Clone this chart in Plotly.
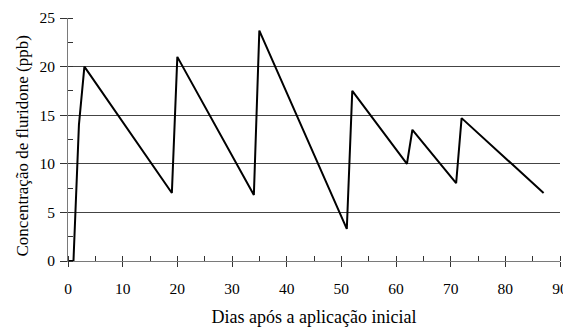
import plotly.graph_objects as go

dias = [0, 1, 2, 3, 19, 20, 34, 35, 51, 52, 62, 63, 71, 72, 87]
concentracao = [0, 0, 14, 20, 7, 21, 6.8, 23.7, 3.3, 17.5, 10, 13.5, 8, 14.7, 7]

x_title = "Dias após a aplicação inicial"
y_title = "Concentração de fluridone (ppb)"

FONT = "Liberation Serif, serif"
AXIS_COLOR = "#7a7a7a"

fig = go.Figure()
fig.add_trace(go.Scatter(x=dias, y=concentracao, mode="lines",
                         line=dict(color="black", width=2), showlegend=False,
                         hoverinfo="skip"))
# invisible trace to activate the overlay axis (inside half of crossing ticks)
fig.add_trace(go.Scatter(x=[dias[0]], y=[concentracao[0]], xaxis="x2", mode="markers",
                         marker=dict(opacity=0), showlegend=False, hoverinfo="skip"))

fig.update_layout(
    width=571, height=320,
    margin=dict(l=60, r=19, t=10, b=67),
    paper_bgcolor="white", plot_bgcolor="white",
    font=dict(family=FONT, size=15, color="black"),
    xaxis=dict(
        range=[0, 90], dtick=10, tick0=0, automargin=False,
        showline=True, linecolor=AXIS_COLOR, linewidth=1,
        ticks="outside", ticklen=5, tickcolor="#333", tickwidth=1,
        minor=dict(dtick=5, ticks="inside", ticklen=5, tickcolor="#333", showgrid=False),
        showgrid=False, zeroline=False, ticklabelstandoff=8, ticklabeloverflow="allow",
        title=dict(text=x_title, font=dict(family=FONT, size=18), standoff=14),
        tickfont=dict(family=FONT, size=15.5),
    ),
    xaxis2=dict(
        range=[0, 90], dtick=10, tick0=0, overlaying="x", anchor="y", side="bottom",
        showline=False, ticks="inside", ticklen=5, tickcolor="#333", tickwidth=1,
        showticklabels=False, showgrid=False, zeroline=False, automargin=False,
    ),
    yaxis=dict(
        range=[0, 25], dtick=5, tick0=0, automargin=False,
        showline=True, linecolor=AXIS_COLOR, linewidth=1,
        ticks="outside", ticklen=7, tickcolor="#333", tickwidth=1,
        minor=dict(dtick=2.5, ticks="inside", ticklen=5, tickcolor="#333", showgrid=False),
        showgrid=True, gridcolor="#444", gridwidth=1, zeroline=False, ticklabelstandoff=2,
        tickfont=dict(family=FONT, size=15.5),
    ),
    annotations=[dict(
        text=y_title, textangle=-90, showarrow=False,
        xref="paper", yref="paper", x=0, y=0.5, xanchor="center", yanchor="middle",
        xshift=-46, yshift=-7, font=dict(family=FONT, size=17, color="black"),
    )],
)

fig.write_html("out.html")
